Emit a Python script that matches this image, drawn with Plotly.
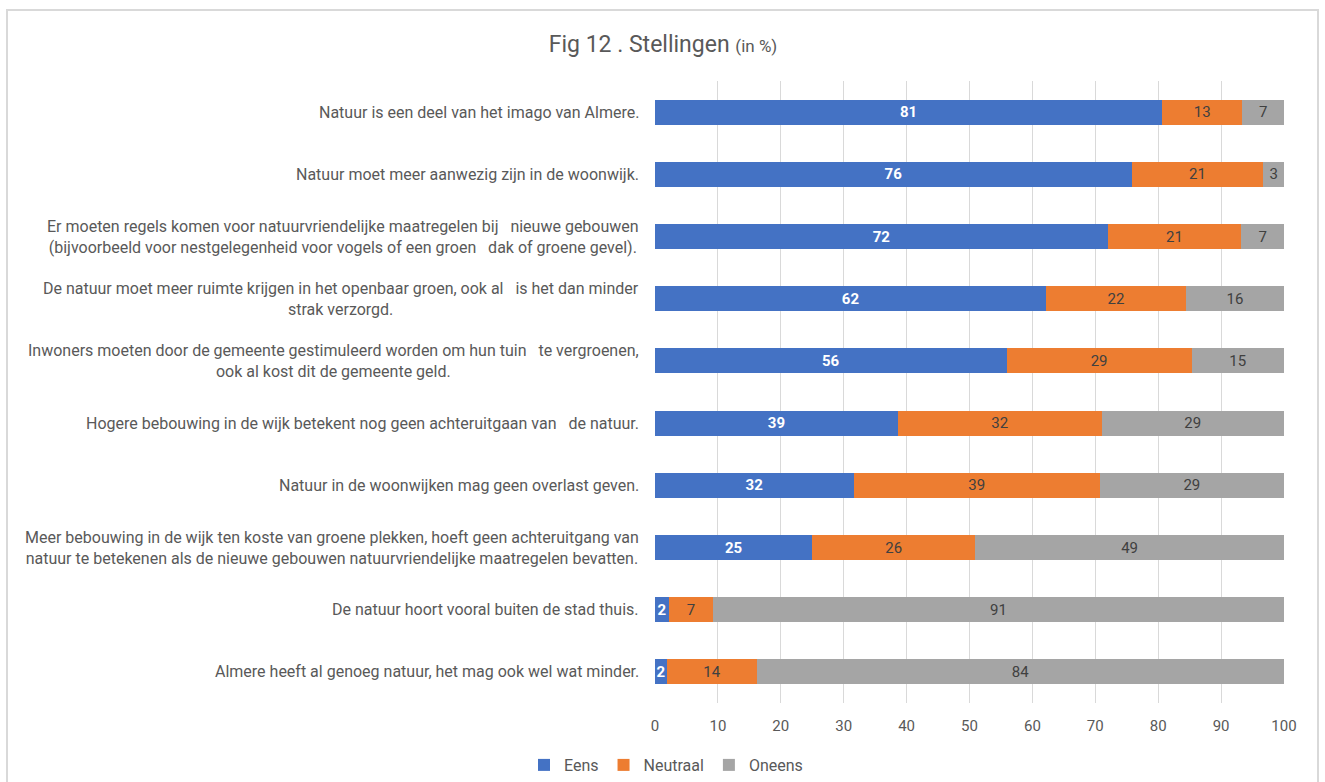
import plotly.graph_objects as go

# statements, top to bottom as shown in the chart
statements = [
    "Natuur is een deel van het imago van Almere.",
    "Natuur moet meer aanwezig zijn in de woonwijk.",
    "Er moeten regels komen voor natuurvriendelijke maatregelen bij \u00a0 nieuwe gebouwen<br>(bijvoorbeeld voor nestgelegenheid voor vogels of een groen \u00a0 dak of groene gevel).",
    "De natuur moet meer ruimte krijgen in het openbaar groen, ook al \u00a0 is het dan minder<br>strak verzorgd.",
    "Inwoners moeten door de gemeente gestimuleerd worden om hun tuin \u00a0 te vergroenen,<br>ook al kost dit de gemeente geld.",
    "Hogere bebouwing in de wijk betekent nog geen achteruitgaan van \u00a0 de natuur.",
    "Natuur in de woonwijken mag geen overlast geven.",
    "Meer bebouwing in de wijk ten koste van groene plekken, hoeft geen achteruitgang van<br>natuur te betekenen als de nieuwe gebouwen natuurvriendelijke maatregelen bevatten.",
    "De natuur hoort vooral buiten de stad thuis.",
    "Almere heeft al genoeg natuur, het mag ook wel wat minder.",
]
eens = [80.6, 75.8, 72.0, 62.2, 55.9, 38.6, 31.6, 25.0, 2.2, 1.9]
neutraal = [12.8, 20.9, 21.2, 22.2, 29.4, 32.4, 39.1, 25.9, 7.0, 14.3]
oneens = [6.6, 3.3, 6.8, 15.6, 14.7, 29.0, 29.3, 49.1, 90.8, 83.8]
x_ticks = [0, 10, 20, 30, 40, 50, 60, 70, 80, 90, 100]

FONT = "Roboto, Noto Sans, sans-serif"
ids = list(range(len(statements)))

fig = go.Figure()
series = [
    ("Eens", eens, "#4472c4", "white", True),
    ("Neutraal", neutraal, "#ed7d31", "#404040", False),
    ("Oneens", oneens, "#a5a5a5", "#404040", False),
]
for name, vals, color, tcolor, bold in series:
    fig.add_trace(go.Bar(
        name=name, y=ids, x=vals, orientation="h",
        marker=dict(color=color, line=dict(width=0)),
        text=[f"<b>{round(v)}</b>" if bold else f"{round(v)}" for v in vals],
        textposition="inside", insidetextanchor="middle",
        textfont=dict(color=tcolor, size=15, family=FONT), constraintext="none",
        width=0.4,
    ))

# centered multi-line category labels, right edge at the axis
for i, s in zip(ids, statements):
    fig.add_annotation(
        x=0, xref="paper", y=i, yref="y", text=s, showarrow=False,
        xanchor="right", xshift=-14, align="center",
        font=dict(family=FONT, size=16, color="#595959"),
    )

fig.add_shape(
    type="rect", xref="paper", yref="paper",
    x0=(7 - 655) / 629, x1=(1318 - 655) / 629,
    y0=(703 - 800) / 622, y1=(703 - 10) / 622,
    line=dict(color="#d9d9d9", width=2), layer="below",
)

fig.update_layout(
    width=1325, height=782,
    barmode="stack",
    paper_bgcolor="white", plot_bgcolor="white",
    margin=dict(l=655, r=41, t=81, b=79),
    title=dict(
        text="Fig 12 . Stellingen <span style='font-size:17px'>(in %)</span>",
        x=663 / 1325, xanchor="center", y=1 - 44 / 782, yanchor="middle",
        font=dict(family=FONT, size=23, color="#595959"),
    ),
    xaxis=dict(
        range=[0, 100], tickvals=x_ticks, showgrid=True, gridcolor="#d9d9d9",
        gridwidth=1, zeroline=False, showline=False,
        ticks="outside", ticklen=9, tickcolor="rgba(0,0,0,0)",
        tickfont=dict(family=FONT, size=15, color="#595959"),
    ),
    yaxis=dict(
        range=[len(ids) - 0.5, -0.5], showticklabels=False, showgrid=False,
        zeroline=False, showline=False,
    ),
    showlegend=True,
    legend=dict(
        orientation="h", xref="container", yref="container",
        x=666 / 1325, xanchor="center", y=1 - 765 / 782, yanchor="middle",
        font=dict(family=FONT, size=16, color="#595959"),
        itemwidth=30, traceorder="normal",
    ),
)

fig.write_html("out.html", config={"displayModeBar": False},
               post_script="document.body.style.margin='0';")
